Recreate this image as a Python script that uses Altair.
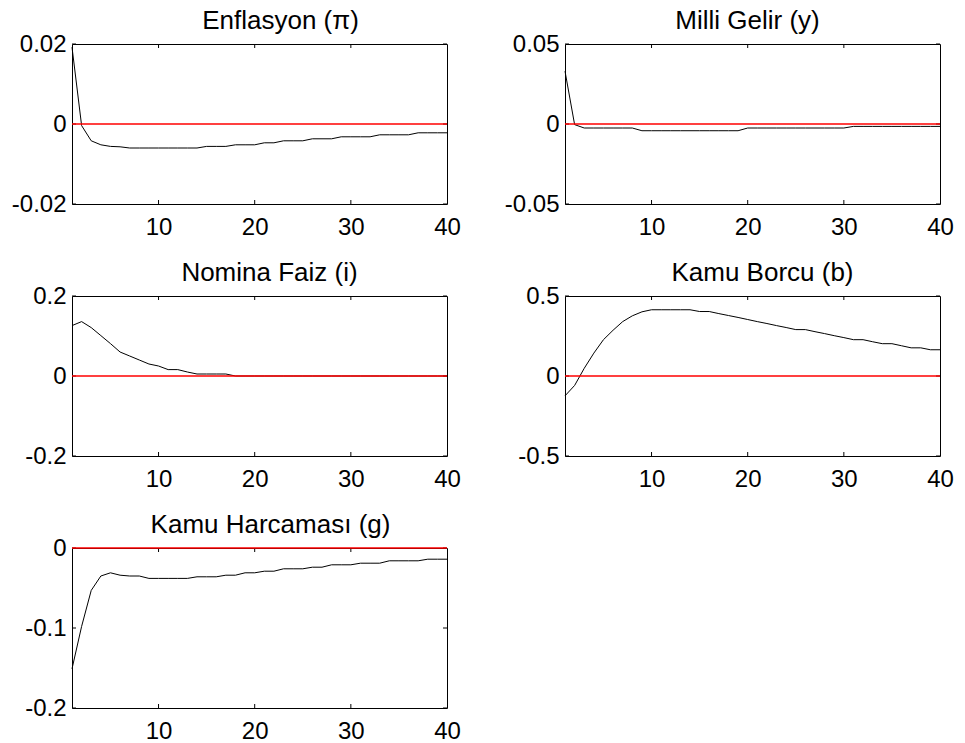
import altair as alt
import pandas as pd

# ---------------- data ----------------
periods = list(range(1, 41))
x_tick_values = [10, 20, 30, 40]
x_inner_ticks = [10, 20, 30]

titles = ["Enflasyon (π)", "Milli Gelir (y)", "Nomina Faiz (i)", "Kamu Borcu (b)", "Kamu Harcaması (g)"]

enflasyon = [0.0192, -0.0004, -0.0042, -0.0052, -0.0056, -0.0057,
             -0.006, -0.006, -0.006, -0.006, -0.006, -0.006, -0.006, -0.006,
             -0.0056, -0.0056, -0.0056, -0.0052, -0.0052, -0.0052,
             -0.0047, -0.0047, -0.0042, -0.0042, -0.0042, -0.0037, -0.0037, -0.0037,
             -0.0032, -0.0032, -0.0032, -0.0032, -0.0027, -0.0027, -0.0027, -0.0027,
             -0.0022, -0.0022, -0.0022, -0.0022]

milli_gelir = [0.033, -0.0004,
               -0.0025, -0.0025, -0.0025, -0.0025, -0.0025, -0.0025,
               -0.0042, -0.0042, -0.0042, -0.0042, -0.0042, -0.0042, -0.0042, -0.0042,
               -0.0042, -0.0042, -0.0042,
               -0.0025, -0.0025, -0.0025, -0.0025, -0.0025, -0.0025, -0.0025, -0.0025,
               -0.0025, -0.0025, -0.0025,
               -0.0015, -0.0015, -0.0015, -0.0015, -0.0015, -0.0015, -0.0015, -0.0015,
               -0.0015, -0.0015]

nominal_faiz = [0.126, 0.136, 0.121, 0.101, 0.081, 0.060, 0.050, 0.040, 0.030, 0.025,
                0.016, 0.016, 0.010, 0.005, 0.005, 0.005, 0.005, 0.0, 0.0, 0.0,
                0.0, 0.0, 0.0, 0.0, 0.0, 0.0, 0.0, 0.0, 0.0, 0.0,
                0.0, 0.0, 0.0, 0.0, 0.0, 0.0, 0.0, 0.0, 0.0, 0.0]

kamu_borcu = [-0.124, -0.059, 0.048, 0.143, 0.227, 0.286, 0.34, 0.376, 0.401, 0.414,
              0.414, 0.414, 0.414, 0.414, 0.403, 0.403, 0.39, 0.378, 0.366, 0.353,
              0.34, 0.328, 0.315, 0.303, 0.29, 0.29, 0.277, 0.265, 0.252, 0.24,
              0.227, 0.227, 0.214, 0.202, 0.202, 0.189, 0.176, 0.176, 0.164, 0.164]

kamu_harcamasi = [-0.151, -0.098, -0.053, -0.035, -0.031, -0.034, -0.035, -0.035,
                  -0.038, -0.038, -0.038, -0.038, -0.038, -0.036, -0.036, -0.036,
                  -0.034, -0.034, -0.031, -0.031, -0.029, -0.029, -0.026, -0.026, -0.026,
                  -0.024, -0.024, -0.021, -0.021, -0.021, -0.019, -0.019, -0.019,
                  -0.016, -0.016, -0.016, -0.016, -0.014, -0.014, -0.014]

y_domains = [[-0.02, 0.02], [-0.05, 0.05], [-0.2, 0.2], [-0.5, 0.5], [-0.2, 0.0]]
y_ticks = [[-0.02, 0, 0.02], [-0.05, 0, 0.05], [-0.2, 0, 0.2], [-0.5, 0, 0.5], [-0.2, -0.1, 0]]

# title horizontal nudges (style)
title_dx = [21, -5, 10, 10, 11]

FONT = "Liberation Sans"
H = 160
W = 375


def panel(title, values, ydom, yticks, w, dx):
    df = pd.DataFrame({"t": periods, "v": values})
    xs = alt.Scale(domain=[1, 40], nice=False, zero=False)
    ys = alt.Scale(domain=ydom, nice=False, zero=False)
    xaxis = alt.Axis(values=x_tick_values, title=None, labelFlush=False, labelPadding=11)
    yaxis = alt.Axis(values=yticks, title=None, labelExpr="'' + datum.value", labelPadding=6)

    line = alt.Chart(df).mark_line(color="black", strokeWidth=1).encode(
        x=alt.X("t:Q", scale=xs, axis=xaxis),
        y=alt.Y("v:Q", scale=ys, axis=yaxis),
    )
    zero = alt.Chart(pd.DataFrame({"v": [0]})).mark_rule(color="#ff0000", strokeWidth=1.3).encode(
        y=alt.Y("v:Q")
    )
    xt_df = pd.DataFrame({"t": x_inner_ticks})
    xt_bottom = alt.Chart(xt_df).mark_rule(color="black", strokeWidth=1).encode(
        x="t:Q", y=alt.value(H), y2=alt.value(H - 4)
    )
    xt_top = alt.Chart(xt_df).mark_rule(color="black", strokeWidth=1).encode(
        x="t:Q", y=alt.value(0), y2=alt.value(4)
    )
    yt_df = pd.DataFrame({"v": yticks})
    yt_left = alt.Chart(yt_df).mark_rule(color="black", strokeWidth=1).encode(
        y="v:Q", x=alt.value(0), x2=alt.value(4)
    )
    yt_right = alt.Chart(yt_df).mark_rule(color="black", strokeWidth=1).encode(
        y="v:Q", x=alt.value(w), x2=alt.value(w - 4)
    )
    return alt.layer(line, xt_bottom, xt_top, yt_left, yt_right, zero).properties(
        width=w,
        height=H,
        title=alt.TitleParams(
            title, font=FONT, fontSize=26, fontWeight="normal", color="black",
            anchor="middle", frame="group", offset=-23, dx=dx, baseline="alphabetic",
        ),
    )


series = [enflasyon, milli_gelir, nominal_faiz, kamu_borcu, kamu_harcamasi]
panels = [panel(titles[i], series[i], y_domains[i], y_ticks[i], W, title_dx[i]) for i in range(5)]

chart = alt.concat(
    *panels, columns=2, spacing={"row": 92, "column": 118}, bounds="flush"
).properties(
    padding={"left": 10, "top": 7, "right": 5, "bottom": 5},
    background="white",
).configure_view(
    stroke="black", strokeWidth=1
).configure_axis(
    domain=False, ticks=False, grid=False,
    labelFont=FONT, labelFontSize=24, labelColor="black",
)

chart.save("out.html", embed_options={"renderer": "svg", "actions": False})
